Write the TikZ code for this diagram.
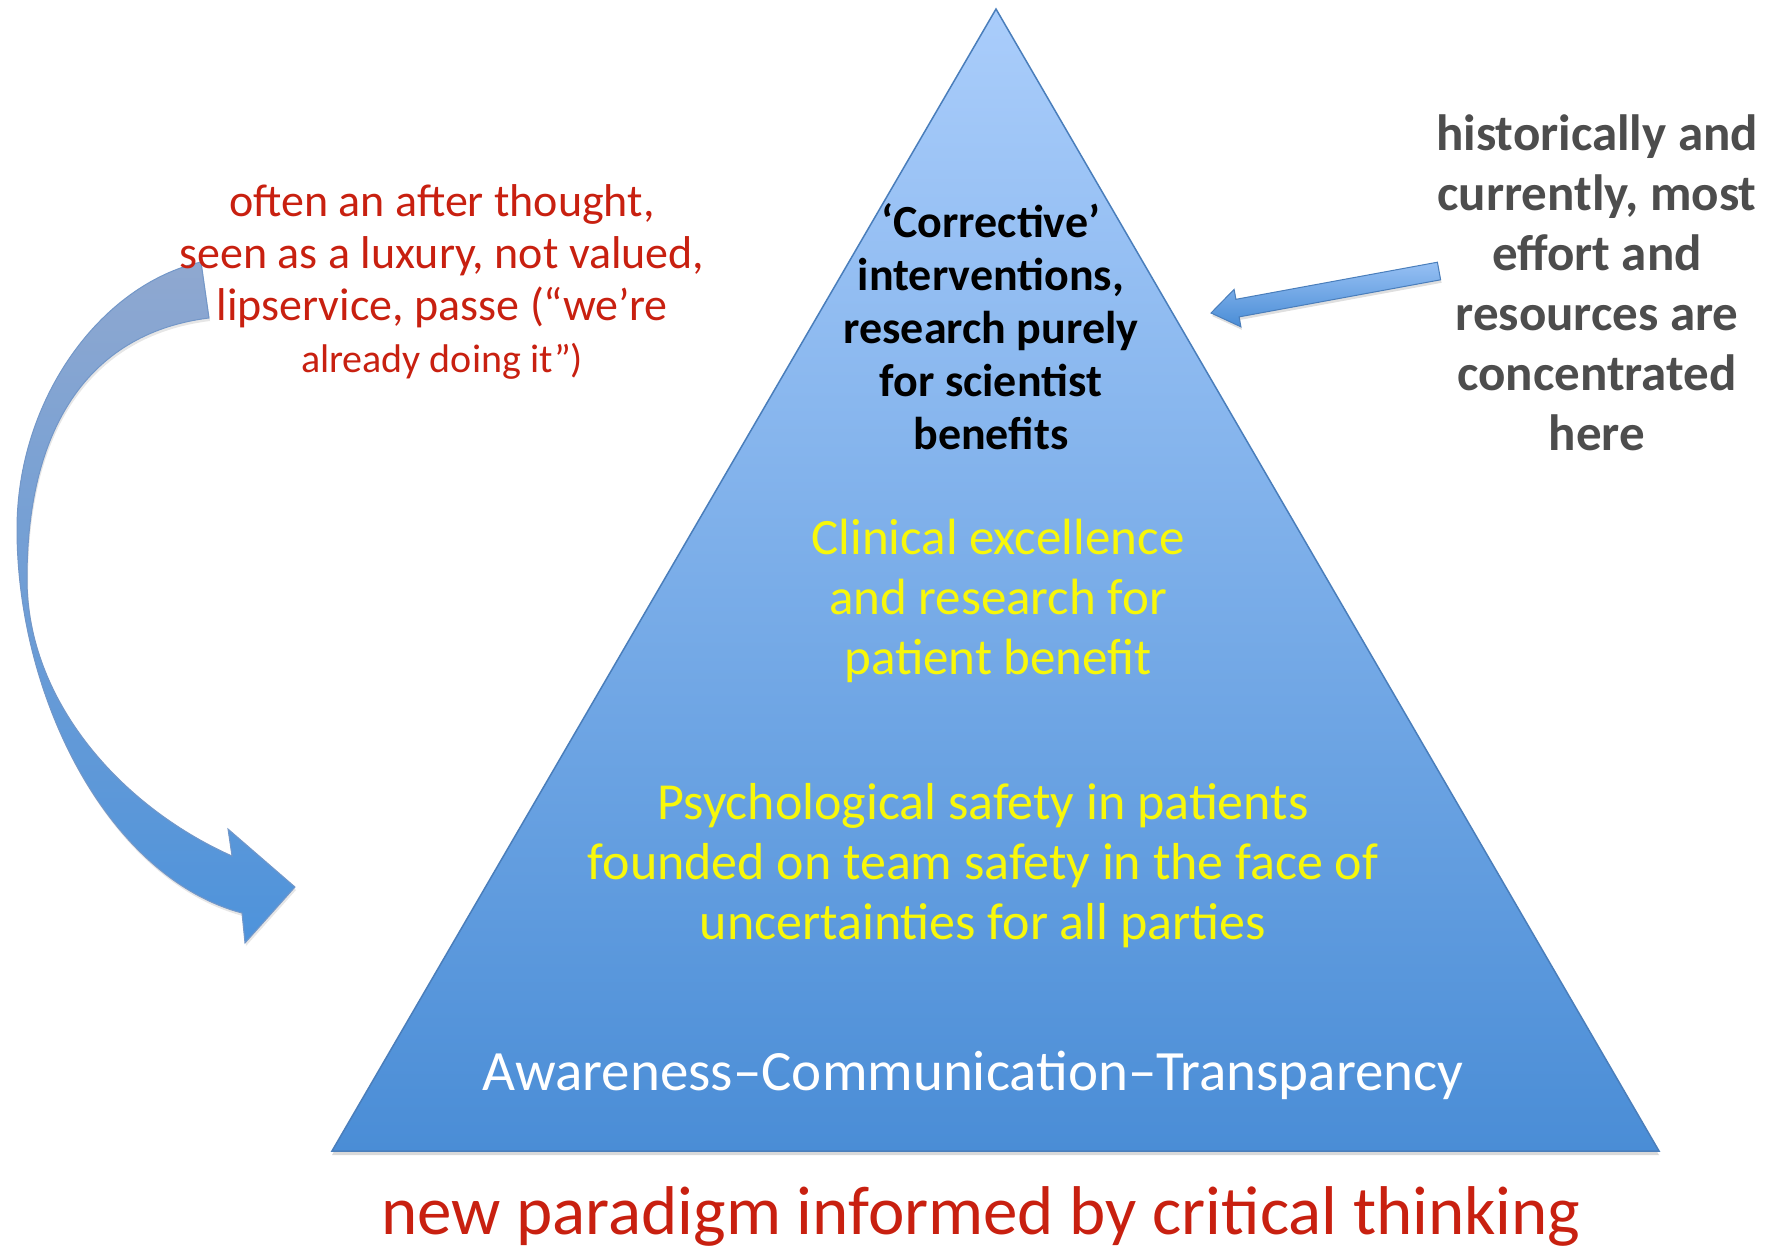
\documentclass[tikz,border=0pt]{standalone}
\usepackage{fontspec}
\setmainfont{Carlito}
\usetikzlibrary{shadows}

\definecolor{pyrtop}{HTML}{AACDFB}
\definecolor{pyrbottom}{HTML}{4A8DD6}
\definecolor{pyredge}{HTML}{4A7EBB}
\definecolor{bendtop}{HTML}{8FA8D0}
\definecolor{bendbottom}{HTML}{4E93DB}
\definecolor{notered}{HTML}{C82010}
\definecolor{noteyellow}{HTML}{F8F80A}
\definecolor{notegrey}{HTML}{4D4D4D}

\tikzset{
  note/.style={align=center, inner sep=0pt},
  blockarrow/.style={draw=pyredge, line width=1pt, line join=miter}
}

\begin{document}
\begin{tikzpicture}[x=1pt,y=-1pt]
   \useasboundingbox (0,0) rectangle (1778,1248);

   % the pyramid
   \path[draw=pyredge, line width=1.5pt, top color=pyrtop, bottom color=pyrbottom,
         drop shadow={shadow xshift=0pt, shadow yshift=-4pt, opacity=.3}]
      (996,9) -- (1659,1151) -- (332,1151) -- cycle;

   % bent arrow on the left
   \path[blockarrow, draw=bendtop!60!pyredge, top color=bendtop, bottom color=bendbottom,
         drop shadow={shadow xshift=1pt, shadow yshift=-3pt, opacity=.2}]
      (201,262) .. controls (100,285) and (17,400) .. (17,529)
      .. controls (17,700) and (110,878) .. (242,913)
      -- (245,943) -- (295,887) -- (228,829) -- (232,856)
      .. controls (120,806) and (27,700) .. (27,579)
      .. controls (27,420) and (95,332) .. (209,318) -- cycle;

   % short arrow on the right
   \path[blockarrow, top color=pyrtop!80!pyrbottom, bottom color=pyrbottom,
         drop shadow={shadow xshift=1pt, shadow yshift=-3pt, opacity=.25}]
      (1437.4,262.2) -- (1235.9,299.3) -- (1234.1,289.4) -- (1211,313)
      -- (1240.9,326.8) -- (1239.1,316.9) -- (1440.6,279.8) -- cycle;

   % texts
   \node[note, text=notered, font={\fontsize{46}{52}\selectfont}] (afterthought) at (442,282)
      {often an after thought,\\
       seen as a luxury, not valued,\\
       lipservice, passe (“we’re\\
       {\fontsize{40}{52}\selectfont already doing it”)}};

   \node[note, text=notegrey, font={\fontsize{51}{60}\selectfont\bfseries}] (effort) at (1597,283)
      {historically and\\ currently, most\\ effort and\\ resources are\\ concentrated\\ here};

   \node[note, font={\fontsize{46}{53}\selectfont\bfseries}] (corrective) at (991,327)
      {‘Corrective’\\ interventions,\\ research purely\\ for scientist\\ benefits};

   \node[note, text=noteyellow, font={\fontsize{51}{60}\selectfont}] (clinical) at (998,601)
      {Clinical excellence\\ and research for\\ patient benefit};

   \node[note, text=noteyellow, font={\fontsize{52}{60}\selectfont}] (safety) at (983,866)
      {Psychological safety in patients\\
       founded on team safety in the face of\\
       uncertainties for all parties};

   \node[note, text=white, font={\fontsize{57}{60}\selectfont}] (act) at (973,1075)
      {Awareness–Communication–Transparency};

   \node[note, text=notered, font={\fontsize{69}{70}\selectfont}] (paradigm) at (981,1216)
      {new paradigm informed by critical thinking};
\end{tikzpicture}
\end{document}
